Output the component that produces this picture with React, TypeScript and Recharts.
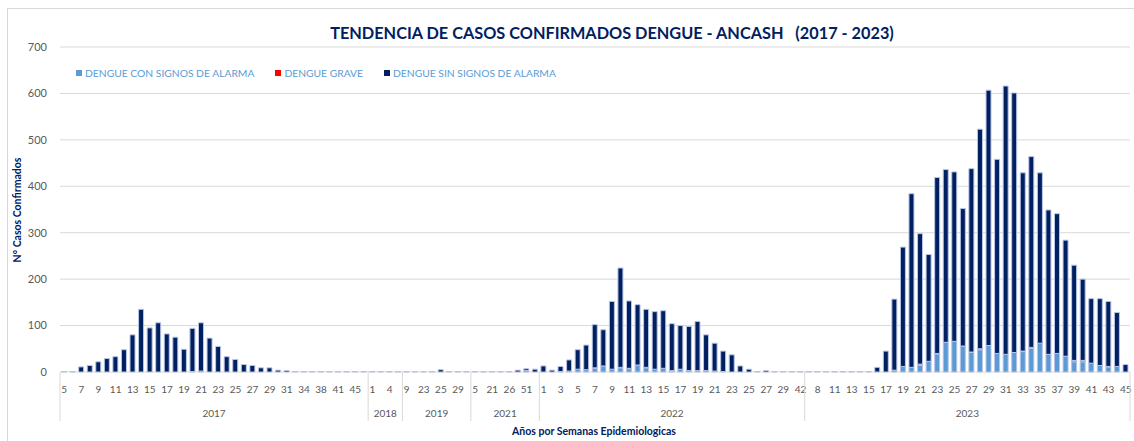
import { Bar, BarChart, CartesianGrid, XAxis, YAxis } from 'recharts'

// categories: epidemiological weeks per year
const yearLabels = ['2017', '2018', '2019', '2021', '2022', '2023']
const weeks2017 = [5, 6, 7, 8, 9, 10, 11, 12, 13, 14, 15, 16, 17, 18, 19, 20, 21, 22, 23, 24, 25, 26, 27, 28, 29, 30, 31, 33, 34, 36, 38, 40, 41, 43, 45, 47]
const weeks2018 = [1, 2, 4, 6]
const weeks2019 = [9, 15, 23, 24, 25, 27, 29, 35]
const weeks2021 = [5, 13, 21, 24, 26, 38, 51, 52]
const weeks2022 = [1, 2, 3, 4, 5, 6, 7, 8, 9, 10, 11, 12, 13, 14, 15, 16, 17, 18, 19, 20, 21, 22, 23, 24, 25, 26, 27, 28, 29, 35, 42]
const weeks2023 = [3, 8, 10, 11, 12, 13, 14, 15, 16, 17, 18, 19, 20, 21, 22, 23, 24, 25, 26, 27, 28, 29, 30, 31, 32, 33, 34, 35, 36, 37, 38, 39, 40, 41, 42, 43, 44, 45]
const weeksByYear = [weeks2017, weeks2018, weeks2019, weeks2021, weeks2022, weeks2023]

// DENGUE CON SIGNOS DE ALARMA
const conSignos = [
  // 2017
  0, 0, 0, 0, 0, 0, 0, 0, 0, 0, 0, 0, 0, 0, 0, 0, 0, 0, 0, 0, 0, 0, 0, 0, 0, 0, 0, 0, 0, 0, 0, 0, 0, 0, 0, 0,
  // 2018
  0, 0, 0, 0,
  // 2019
  0, 1, 1, 0, 0, 0, 0, 0,
  // 2021
  0, 1, 0, 1, 1, 0, 3, 0,
  // 2022
  0, 0, 1, 2, 6, 5, 8, 13, 6, 9, 7, 15, 9, 6, 8, 1, 6, 3, 3, 3, 1, 0, 0, 0, 0, 0, 0, 0, 0, 0, 0,
  // 2023
  0, 0, 0, 0, 0, 0, 0, 0, 0, 0, 4, 12, 10, 14, 23, 39, 64, 66, 56, 42, 48, 57, 40, 38, 42, 44, 51, 62, 38, 40, 34, 22, 22, 19, 14, 11, 12, 0,
]

// DENGUE GRAVE
const grave = [
  // 2017
  0, 0, 0, 0, 0, 0, 0, 0, 0, 0, 0, 0, 0, 0, 0, 1, 2, 0, 0, 0, 0, 0, 0, 0, 0, 0, 0, 0, 0, 0, 0, 0, 0, 0, 0, 0,
  // 2018
  1, 0, 0, 0,
  // 2019
  0, 0, 0, 0, 0, 0, 0, 0,
  // 2021
  0, 0, 0, 0, 0, 0, 0, 0,
  // 2022
  0, 0, 0, 0, 0, 0, 1, 0, 0, 1, 1, 0, 1, 0, 0, 2, 0, 0, 0, 0, 1, 1, 0, 0, 0, 0, 0, 0, 0, 0, 0,
  // 2023
  0, 0, 0, 0, 0, 0, 0, 0, 0, 0, 0, 0, 0, 3, 0, 1, 0, 0, 0, 1, 2, 0, 0, 0, 0, 1, 2, 0, 0, 0, 0, 3, 3, 0, 0, 1, 0, 0,
]

// DENGUE SIN SIGNOS DE ALARMA
const sinSignos = [
  // 2017
  1, 1, 11, 14, 22, 29, 33, 48, 80, 135, 95, 106, 82, 75, 49, 93, 104, 73, 55, 33, 27, 16, 14, 9, 9, 4, 3, 1, 1, 1, 1, 1, 1, 1, 1, 1,
  // 2018
  0, 1, 1, 1,
  // 2019
  1, 0, 0, 1, 5, 1, 1, 1,
  // 2021
  1, 0, 1, 0, 0, 4, 4, 6,
  // 2022
  13, 4, 11, 24, 42, 53, 93, 78, 146, 214, 145, 130, 125, 124, 124, 101, 94, 95, 106, 77, 60, 44, 37, 13, 6, 1, 3, 1, 1, 1, 1,
  // 2023
  1, 1, 1, 1, 1, 1, 1, 1, 10, 45, 153, 257, 374, 281, 230, 379, 372, 365, 296, 395, 473, 550, 418, 578, 559, 384, 411, 367, 311, 301, 250, 205, 175, 139, 144, 140, 116, 16,
]

const yTicks = [0, 100, 200, 300, 400, 500, 600, 700]

const data = weeksByYear
  .flatMap((weeks, g) => weeks.map((w) => ({ year: yearLabels[g], week: String(w) })))
  .map((row, i) => ({ ...row, key: i, con: conSignos[i], grave: grave[i], sin: sinSignos[i] }))

const NAVY = '#002060'
const FONT = 'Lato, "Open Sans", sans-serif'

function WeekTick(props: any) {
  const { x, y, payload } = props
  const i: number = payload.index
  const row = data[i]
  if (!row) return <g />
  const half: number = payload.offset || props.width / data.length / 2
  const isStart = i === 0 || data[i - 1].year !== row.year
  const isLast = i === data.length - 1
  const groupLen = isStart ? data.filter((d) => d.year === row.year).length : 0
  return (
    <g>
      {i % 2 === 0 && (
        <text x={x} y={y + 21} textAnchor="middle" fill="#595959" stroke="none" fontSize={10} fontFamily={FONT}>
          {row.week}
        </text>
      )}
      {isStart && <line x1={x - half} x2={x - half} y1={y} y2={y + 49} stroke="#D9D9D9" />}
      {isLast && <line x1={x + half} x2={x + half} y1={y} y2={y + 49} stroke="#D9D9D9" />}
      {isStart && (
        <text x={x - half + groupLen * half} y={y + 45} textAnchor="middle" fill="#595959" stroke="none" fontSize={10} fontFamily={FONT}>
          {row.year}
        </text>
      )}
    </g>
  )
}

const legendItems = [
  { name: 'DENGUE CON SIGNOS DE ALARMA', color: '#5B9BD5' },
  { name: 'DENGUE GRAVE', color: '#FF0000' },
  { name: 'DENGUE SIN SIGNOS DE ALARMA', color: NAVY },
]

export default function App() {
  return (
    <div style={{ position: 'absolute', left: 0, top: 0, width: 1134, height: 441, overflow: 'hidden', background: '#fff' }}>
      <div style={{ position: 'absolute', left: 7, top: 8, width: 1200, height: 500, border: '1px solid #D9D9D9' }} />
      <div style={{ position: 'absolute', left: 0, top: 0 }}>
        <BarChart
          width={1134}
          height={441}
          data={data}
          margin={{ top: 47, right: 4, bottom: 0, left: 10 }}
          barCategoryGap="18%"
        >
          <CartesianGrid vertical={false} stroke="#D9D9D9" />
          <XAxis
            dataKey="key"
            interval={0}
            height={69}
            axisLine={false}
            tickLine={false}
            tickSize={0}
            tickMargin={0}
            tick={<WeekTick />}
          />
          <YAxis
            domain={[0, 700]}
            ticks={yTicks}
            axisLine={false}
            tickLine={false}
            width={50}
            tickMargin={7}
            tick={{ fill: '#595959', fontSize: 11, fontFamily: FONT }}
          />
          <Bar dataKey="con" stackId="a" fill="#5B9BD5" stroke="#B9C5E6" strokeWidth={1} isAnimationActive={false} />
          <Bar dataKey="grave" stackId="a" fill="#FF0000" stroke="#B9C5E6" strokeWidth={1} isAnimationActive={false} />
          <Bar dataKey="sin" stackId="a" fill={NAVY} stroke="#B9C5E6" strokeWidth={1} isAnimationActive={false} />
        </BarChart>
      </div>
      <svg width={1134} height={441} style={{ position: 'absolute', left: 0, top: 0, pointerEvents: 'none' }}>
        <text x={612} y={39} textAnchor="middle" fill={NAVY} fontSize={16.3} fontWeight={700} fontFamily={FONT} style={{ whiteSpace: 'pre' }}>
          {'TENDENCIA DE CASOS CONFIRMADOS DENGUE - ANCASH   (2017 - 2023)'}
        </text>
        <text transform="translate(21,210) rotate(-90)" textAnchor="middle" fill={NAVY} fontSize={10.5} fontWeight={700} fontFamily={FONT}>
          N° Casos Confirmados
        </text>
        <text x={594} y={435} textAnchor="middle" fill={NAVY} fontSize={10.5} fontWeight={700} fontFamily={FONT}>
          Años por Semanas Epidemiologicas
        </text>
      </svg>
      <div
        style={{
          position: 'absolute',
          left: 76,
          top: 66,
          display: 'flex',
          gap: 21,
          fontFamily: FONT,
          fontSize: 10.3,
          color: '#5B9BD5',
          lineHeight: '14px',
          whiteSpace: 'nowrap',
        }}
      >
        {legendItems.map((item) => (
          <div key={item.name} style={{ display: 'flex', alignItems: 'center', gap: 3 }}>
            <span style={{ width: 6, height: 6, background: item.color, display: 'inline-block' }} />
            <span>{item.name}</span>
          </div>
        ))}
      </div>
    </div>
  )
}
